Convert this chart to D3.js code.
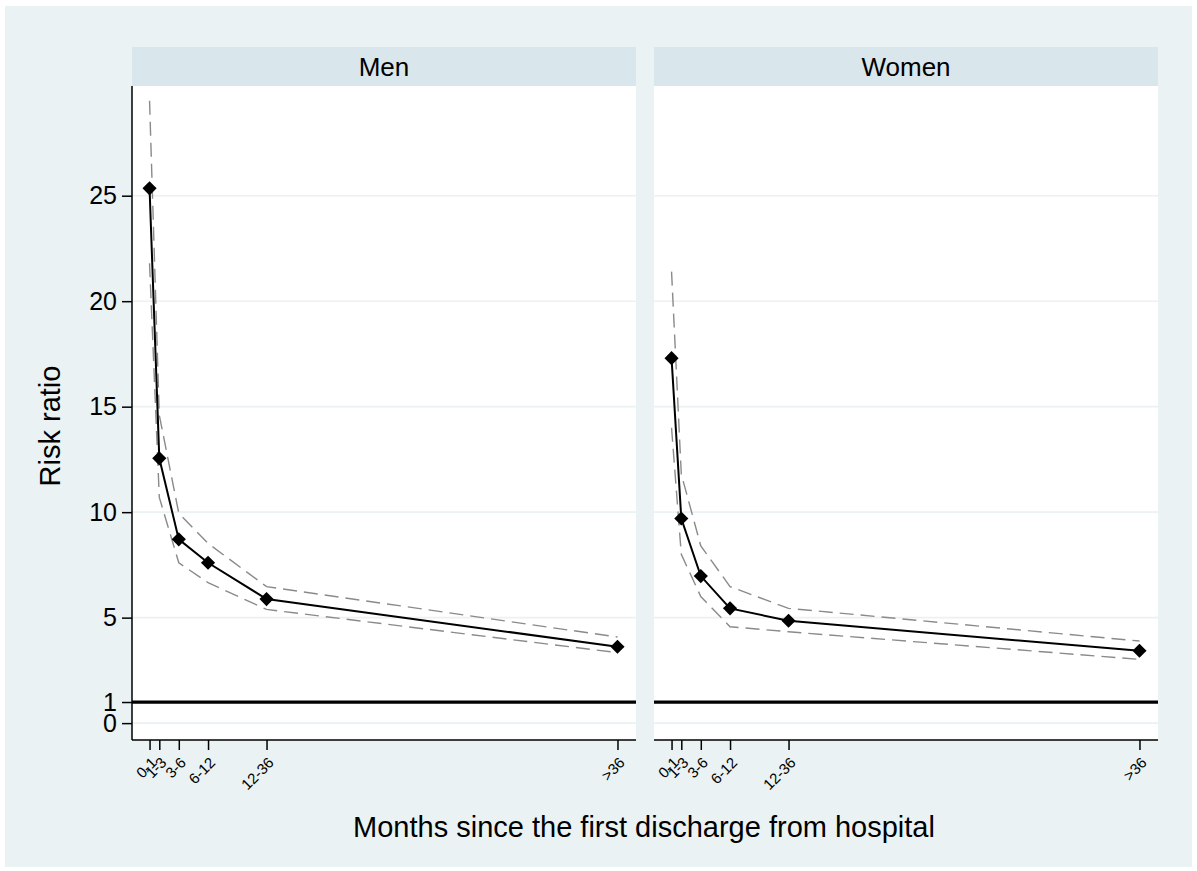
<!DOCTYPE html>
<html>
<head>
<meta charset="utf-8">
<script src="https://cdn.jsdelivr.net/npm/d3@7"></script>
<style>
  body { margin: 0; background: #fff; }
  text { font-family: Arial, "Liberation Sans", sans-serif; fill: #000; }
</style>
</head>
<body>
<script>
// months since discharge (start of each interval) and their labels
var months = [0, 1, 3, 6, 12, 48];
var monthLabels = ["0-1", "1-3", "3-6", "6-12", "12-36", ">36"];
var yTicks = [0, 1, 5, 10, 15, 20, 25];
var gridTicks = [0, 5, 10, 15, 20, 25];

// risk ratios with confidence limits
var menRR = [25.35, 12.55, 8.71, 7.60, 5.88, 3.62];
var menLo = [21.8, 10.7, 7.6, 6.66, 5.39, 3.34];
var menHi = [29.5, 14.6, 9.95, 8.52, 6.47, 4.08];

var womenRR = [17.3, 9.7, 6.97, 5.44, 4.85, 3.43];
var womenLo = [14.0, 8.0, 6.0, 4.57, 4.33, 3.02];
var womenHi = [21.4, 11.8, 8.4, 6.47, 5.44, 3.89];

var panels = [
    {name: "Men", x0: 132, rr: menRR, lo: menLo, hi: menHi, yaxis: true},
    {name: "Women", x0: 654, rr: womenRR, lo: womenLo, hi: womenHi, yaxis: false}
];

var W = 1197, H = 871;
var panelW = 504, plotTop = 86, plotBottom = 740, stripTop = 47;

var svg = d3.select("body").append("svg").attr("width", W).attr("height", H);

// outer background
svg.append("rect").attr("x", 5).attr("y", 6).attr("width", W - 10).attr("height", H - 10)
    .style("fill", "#eaf2f3");

var x = d3.scaleLinear().domain([-1.8, 49.9]).range([0, panelW]);
var y = d3.scaleLinear().domain([-0.8, 30.2]).range([plotBottom, plotTop]);

panels.forEach(function (p) {
    var g = svg.append("g").attr("transform", "translate(" + p.x0 + ",0)");

    // strip header
    g.append("rect").attr("x", 0).attr("y", stripTop).attr("width", panelW).attr("height", plotTop - stripTop)
        .style("fill", "#d9e6eb");
    g.append("text").attr("x", panelW / 2).attr("y", 76).attr("text-anchor", "middle")
        .style("font-size", "26px").text(p.name);

    // plot area
    g.append("rect").attr("x", 0).attr("y", plotTop).attr("width", panelW).attr("height", plotBottom - plotTop)
        .style("fill", "#fff");

    g.selectAll(".grid").data(gridTicks).enter().append("line")
        .attr("x1", 0).attr("x2", panelW)
        .attr("y1", function (d) { return y(d); }).attr("y2", function (d) { return y(d); })
        .style("stroke", "#eaf2f3").style("stroke-width", 1.6);

    // reference line at 1
    g.append("line").attr("x1", 0).attr("x2", panelW).attr("y1", y(1)).attr("y2", y(1))
        .style("stroke", "#000").style("stroke-width", 3.2);

    var idx = d3.range(months.length);
    var mk = function (arr) {
        return d3.line().x(function (i) { return x(months[i]); }).y(function (i) { return y(arr[i]); });
    };

    [p.lo, p.hi].forEach(function (arr) {
        g.append("path").attr("d", mk(arr)(idx))
            .style("fill", "none").style("stroke", "#8a8a8a").style("stroke-width", 1.4)
            .style("stroke-dasharray", "14,7");
    });

    g.append("path").attr("d", mk(p.rr)(idx))
        .style("fill", "none").style("stroke", "#000").style("stroke-width", 2);

    g.selectAll(".pt").data(idx).enter().append("path")
        .attr("d", d3.symbol().type(d3.symbolSquare).size(100))
        .attr("transform", function (i) { return "translate(" + x(months[i]) + "," + y(p.rr[i]) + ") rotate(45)"; })
        .style("fill", "#000");

    // x axis
    var xa = g.append("g").attr("transform", "translate(0," + plotBottom + ")")
        .call(d3.axisBottom(x).tickValues(months).tickSize(10)
            .tickFormat(function (d, i) { return monthLabels[i]; }));
    xa.select(".domain").attr("d", "M0,0H" + panelW).style("stroke", "#000").style("stroke-width", 1.5);
    xa.selectAll(".tick line").style("stroke", "#000").style("stroke-width", 1.5);
    xa.selectAll(".tick text")
        .style("font-size", "15px").style("font-family", "Arial, 'Liberation Sans', sans-serif")
        .attr("text-anchor", "end").attr("y", 0).attr("dy", "0.35em")
        .attr("transform", "translate(4,20) rotate(-45)");

    if (p.yaxis) {
        var ya = g.append("g").call(d3.axisLeft(y).tickValues(yTicks).tickSize(10).tickPadding(5));
        ya.select(".domain").attr("d", "M0," + plotTop + "V" + plotBottom).style("stroke", "#000").style("stroke-width", 1.5);
        ya.selectAll(".tick line").style("stroke", "#000").style("stroke-width", 1.5);
        ya.selectAll(".tick text").style("font-size", "25px")
            .style("font-family", "Arial, 'Liberation Sans', sans-serif");
    }
});

svg.append("text").attr("transform", "translate(60,426) rotate(-90)").attr("text-anchor", "middle")
    .style("font-size", "29px").text("Risk ratio");

svg.append("text").attr("x", 644).attr("y", 837).attr("text-anchor", "middle")
    .style("font-size", "29px").text("Months since the first discharge from hospital");
</script>
</body>
</html>
